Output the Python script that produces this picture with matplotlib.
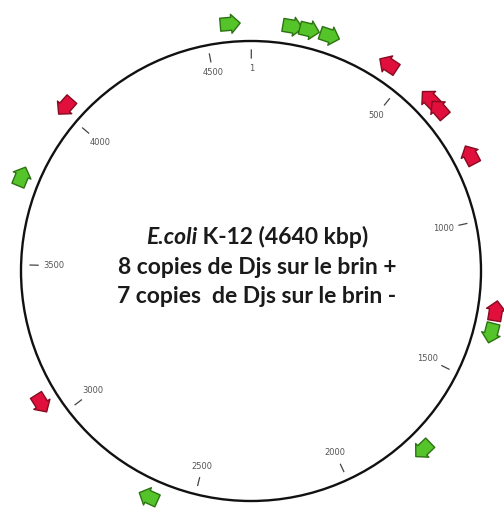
import numpy as np
import matplotlib
matplotlib.use("Agg")
import matplotlib.pyplot as plt
from matplotlib.patches import Circle, Polygon

# ---- data ----
genome_kbp = 4640
tick_kbp = [1, 500, 1000, 1500, 2000, 2500, 3000, 3500, 4000, 4500]
tick_labels = ["1", "500", "1000", "1500", "2000", "2500", "3000", "3500", "4000", "4500"]
plus_kbp = [125, 176, 239, 1347, 1754, 2635, 3769, 4578]     # Djs copies on + strand (green)
minus_kbp = [433, 593, 634, 800, 1279, 3064, 4015]           # Djs copies on - strand (red)
title_italic = "E.coli"
title_rest = " K-12 (4640 kbp)"
line2 = "8 copies de Djs sur le brin +"
line3 = "7 copies  de Djs sur le brin -"

# ---- layout (pixel units) ----
W, H = 504, 508
cx, cy = 251, 271          # circle centre in image px (from top-left)
R = 230
fig = plt.figure(figsize=(W / 100, H / 100), dpi=100)
ax = fig.add_axes([0, 0, 1, 1])
ax.set_xlim(-cx, W - cx)
ax.set_ylim(-(H - cy), cy)
ax.axis("off")

ax.add_patch(Circle((0, 0), R, fill=False, lw=1.7, ec="#111111"))

def ang(k):
    return 2 * np.pi * k / genome_kbp

for k, lab in zip(tick_kbp, tick_labels):
    t = ang(k)
    s, c = np.sin(t), np.cos(t)
    ax.plot([213 * s, 221 * s], [213 * c, 221 * c], color="#444444", lw=0.9)
    rl = 203 - 6 * abs(s)
    ax.text(rl * s, rl * c, lab, ha="center", va="center", fontsize=6,
            color="#555555")

def arrow(k, clockwise, fc, ec):
    t = ang(k)
    r = 248
    px, py = r * np.sin(t), r * np.cos(t)
    d = np.array([np.cos(t), -np.sin(t)])
    if not clockwise:
        d = -d
    n = np.array([-d[1], d[0]])
    L, hl, bw, hw = 20, 9, 6.5, 9.5
    local = [(-L / 2, -bw), (L / 2 - hl, -bw), (L / 2 - hl, -hw), (L / 2, 0),
             (L / 2 - hl, hw), (L / 2 - hl, bw), (-L / 2, bw)]
    pts = [(px + a * d[0] + b * n[0], py + a * d[1] + b * n[1]) for a, b in local]
    ax.add_patch(Polygon(pts, closed=True, fc=fc, ec=ec, lw=1.0, joinstyle="round"))

for k in plus_kbp:
    arrow(k, True, "#55c42a", "#2c7312")
for k in minus_kbp:
    arrow(k, False, "#e10f3c", "#860a20")

# ---- central text ----
fam = ["Lato", "DejaVu Sans"]
col = "#1a1a1a"
renderer = fig.canvas.get_renderer()
probe = ax.text(0, 0, line2, fontsize=14, fontweight="bold", family=fam)
w = probe.get_window_extent(renderer).width
probe.remove()
fs = 14 * 280 / w

xc = 6
ax.text(xc, 271 - 274, line2, fontsize=fs, fontweight="bold", family=fam,
        ha="center", va="baseline", color=col)
ax.text(xc, 271 - 303, line3, fontsize=fs, fontweight="bold", family=fam,
        ha="center", va="baseline", color=col)
t1 = ax.text(0, 271 - 244, title_italic, fontsize=fs, fontweight="bold",
             style="italic", family=fam, ha="left", va="baseline", color=col)
t2 = ax.text(0, 271 - 244, title_rest, fontsize=fs, fontweight="bold",
             family=fam, ha="left", va="baseline", color=col)
w1 = t1.get_window_extent(renderer).width
w2 = t2.get_window_extent(renderer).width
x0 = xc - (w1 + w2) / 2
t1.set_x(x0)
t2.set_x(x0 + w1)

fig.savefig("out.png", dpi=100, facecolor="white")
